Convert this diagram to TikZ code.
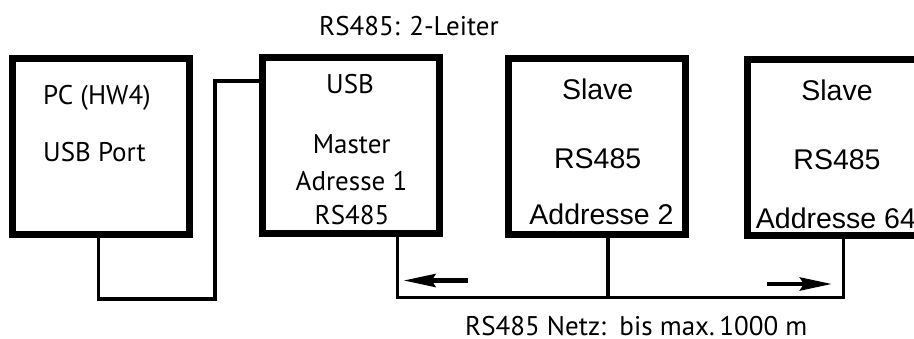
\documentclass[tikz,border=0pt]{standalone}
\usepackage{fontspec}
\setmainfont{PT Sans}
\newfontfamily\helv{Liberation Sans}
\usepackage{tikz}
\usetikzlibrary{arrows.meta, positioning}

\begin{document}
\begin{tikzpicture}[x=1pt,y=-1pt,>={Stealth[length=32pt,width=13pt,inset=4pt]},
  box/.style={rectangle,draw,line width=7pt,minimum width=177pt,minimum height=176pt,inner sep=0pt},
  lbl/.style={anchor=base,inner sep=0pt,font=\fontsize{27}{32}\selectfont},
  hlbl/.style={anchor=base,inner sep=0pt,font=\helv\fontsize{28.5}{33}\selectfont},
  wire/.style={-,line width=3.4pt},
  flow/.style={->,line width=4.6pt}]
  \clip (0,0) rectangle (914,338);

  % devices on the bus
  \node[box] (PC)  at (101,146)   [] {};
  \node[box] (MA)  at (351,145.5) [] {};
  \node[box] (S2)  at (597,146)   [] {};
  \node[box] (S64) at (836,147)   [] {};

  % texts
  \node[lbl] (T0) at (409,35)    [] {RS485: 2-Leiter};
  \node[lbl] (T1) at (97,104)    [] {PC (HW4)};
  \node[lbl] (T2) at (94.5,161.7) [] {USB Port};
  \node[lbl] (T3) at (350,93.3)  [] {USB};
  \node[lbl] (T4) at (351.7,153.3) [] {Master};
  \node[lbl] (T5) at (351.5,190.7) [] {Adresse 1};
  \node[lbl] (T6) at (352,224)   [] {RS485};
  \node[hlbl] (T7) at (597.7,99)  [] {Slave};
  \node[hlbl] (T8) at (597.7,168.3) [] {RS485};
  \node[hlbl] (T9) at (601.5,224) [] {Addresse 2};
  \node[hlbl] (T10) at (837,100)  [] {Slave};
  \node[hlbl] (T11) at (837,169)  [] {RS485};
  \node[hlbl,anchor=base west] (T12) at (755.7,228.3) [] {Addresse 64};
  \node[lbl] (T13) at (636.3,335) [] {RS485 Netz:\enspace bis max.\,1000 m};

  % corners of the wires and ends of the direction arrows
  \coordinate (K1) at (215,299);
  \coordinate (K2) at (608,297.5);
  \coordinate (A1) at (468,280.5);
  \coordinate (A1e) at (403.5,280.5);
  \coordinate (A2) at (767,284);
  \coordinate (A2e) at (832,284);

  \draw[wire] ([xshift=-2.5pt]PC.south) |- (K1) |- ([yshift=64.5pt]MA.west);
  \draw[wire] ([xshift=46.5pt]MA.south) |- (K2) -| ([xshift=7.5pt]S64.south);
  \draw[wire] ([xshift=11pt]S2.south) -- (K2);

  \draw[flow] (A1) -- (A1e);
  \draw[flow] (A2) -- (A2e);
\end{tikzpicture}
\end{document}
